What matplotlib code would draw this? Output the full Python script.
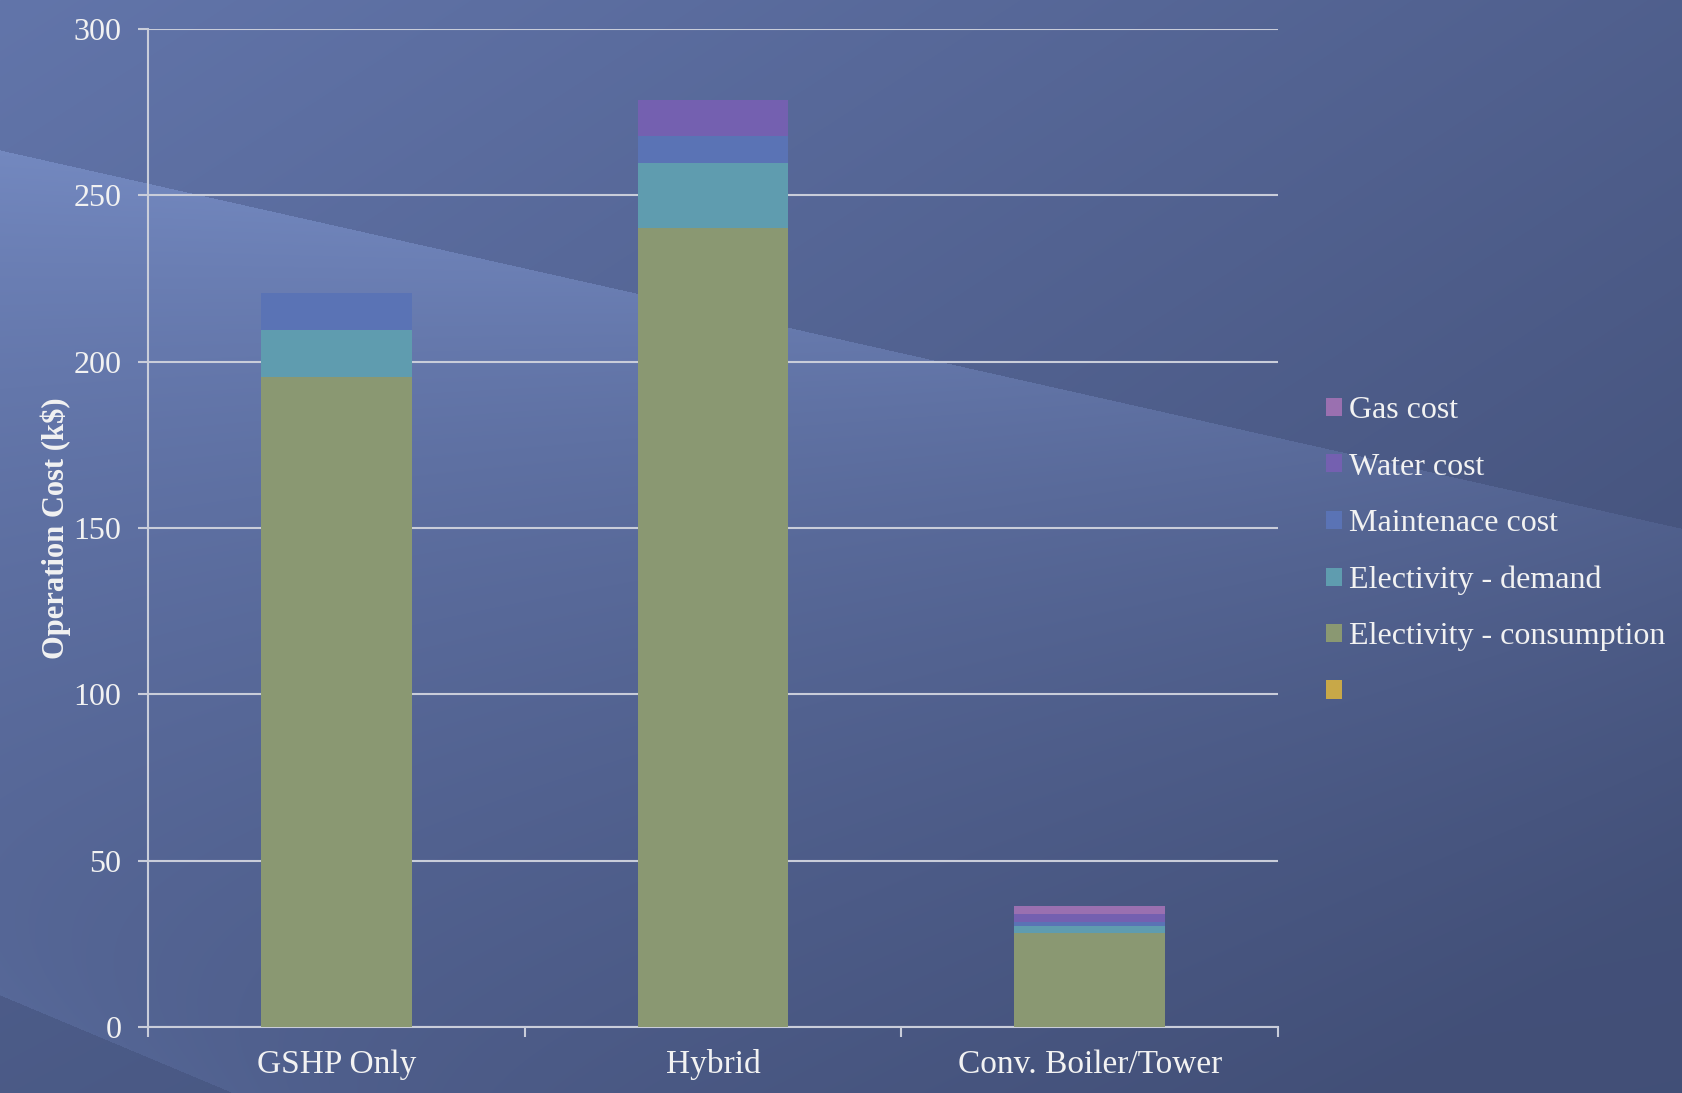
import numpy as np
import matplotlib
matplotlib.use("Agg")
import matplotlib.pyplot as plt
from matplotlib.colors import to_rgb

categories = ["GSHP Only", "Hybrid", "Conv. Boiler/Tower"]
elec_consumption = [195.3, 240.2, 28.2]
elec_demand = [14.2, 19.5, 2.1]
maintenance = [11.1, 8.0, 1.4]
water = [0.0, 11.0, 2.4]
gas = [0.0, 0.0, 2.2]
blank_series = [0.0, 0.0, 0.0]

series_names = ["Electivity - consumption", "Electivity - demand", "Maintenace cost",
                "Water cost", "Gas cost", " "]
series_values = [elec_consumption, elec_demand, maintenance, water, gas, blank_series]
series_colors = ["#8a9872", "#5f9caf", "#5a73b5", "#7460b0", "#9a70b0", "#c8a848"]
yticks = [0, 50, 100, 150, 200, 250, 300]

W, H = 1682, 1093
fig = plt.figure(figsize=(W / 100, H / 100), dpi=100)

# background gradient with diagonal light streak
bg = fig.add_axes([0, 0, 1, 1], zorder=-10)
yy, xx = np.mgrid[0:H, 0:W].astype(float)
c_tl = np.array(to_rgb("#6275aa"))
c_br = np.array(to_rgb("#414e76"))
t = np.clip((xx / W) * 0.55 + (yy / H) * 0.55, 0, 1)[..., None]
img = c_tl * (1 - t) + c_br * t
edge = 150 + 0.225 * xx
d = yy - edge
band = np.where(d >= 0, np.exp(-d / 240.0), 0.0)
fade = np.clip(1.0 - xx / (W * 1.3), 0, 1)
light = np.array(to_rgb("#7a90c8"))
a = (band * fade * 0.75)[..., None]
img = img * (1 - a) + light * a
edge2 = 995 + 0.42 * xx
d2 = yy - edge2
dark = np.where(d2 > 0, 0.35, 0.0)[..., None]
img = img * (1 - dark) + np.array(to_rgb("#415079")) * dark
d3 = edge2 - yy
lb = np.where(d3 > 0, np.exp(-d3 / 90.0) * 0.25, 0)[..., None] * np.clip(1 - xx / 700, 0, 1)[..., None]
img = img * (1 - lb) + np.array(to_rgb("#647aae")) * lb
bg.imshow(np.clip(img, 0, 1), aspect="auto", extent=[0, 1, 0, 1])
bg.set_axis_off()

ax = fig.add_axes([148 / W, 1 - 1027 / H, (1278 - 148) / W, (1027 - 29) / H])
ax.set_facecolor("none")

x = np.arange(len(categories))
bottom = np.zeros(len(categories))
handles = []
for name, vals, col in zip(series_names, series_values, series_colors):
    b = ax.bar(x, vals, width=0.40, bottom=bottom, color=col, label=name,
               edgecolor="none", zorder=3)
    handles.append(b)
    bottom += np.array(vals)

ax.set_xlim(-0.5, 2.5)
ax.set_ylim(0, 300)
ax.set_yticks(yticks)
ax.grid(axis="y", color="#c9cdda", linewidth=1.5, zorder=1)
ax.set_axisbelow(True)

txt = "#f2f2f2"
serif = "Liberation Serif"
ax.set_yticklabels([str(v) for v in yticks], fontsize=23, color=txt, family=serif)
ax.set_xticks(x)
ax.set_xticklabels(categories, fontsize=24, color=txt, family=serif)
ax.tick_params(axis="x", length=0, pad=16)
ax.set_xticks([-0.5, 0.5, 1.5, 2.5], minor=True)
ax.tick_params(axis="x", which="minor", length=7, color="#c9cdda", width=1.5)
ax.tick_params(axis="y", length=7, color="#c9cdda", width=1.5, pad=12)

for s in ["top", "right"]:
    ax.spines[s].set_visible(False)
for s in ["left", "bottom"]:
    ax.spines[s].set_color("#c9cdda")
    ax.spines[s].set_linewidth(1.5)

ax.set_ylabel("Operation Cost (k\\$)", fontsize=22, color=txt, family=serif,
              fontweight="bold", labelpad=2)

order = [4, 3, 2, 1, 0, 5]
leg = fig.legend([handles[i] for i in order], [series_names[i] for i in order],
                 loc="center left", bbox_to_anchor=(1297 / W, 1 - 552 / H), frameon=False,
                 prop={"family": serif, "size": 23}, labelcolor=txt,
                 handlelength=0.5, handleheight=0.5, handletextpad=0.22,
                 labelspacing=0.86)

fig.savefig("out.png", dpi=100)
